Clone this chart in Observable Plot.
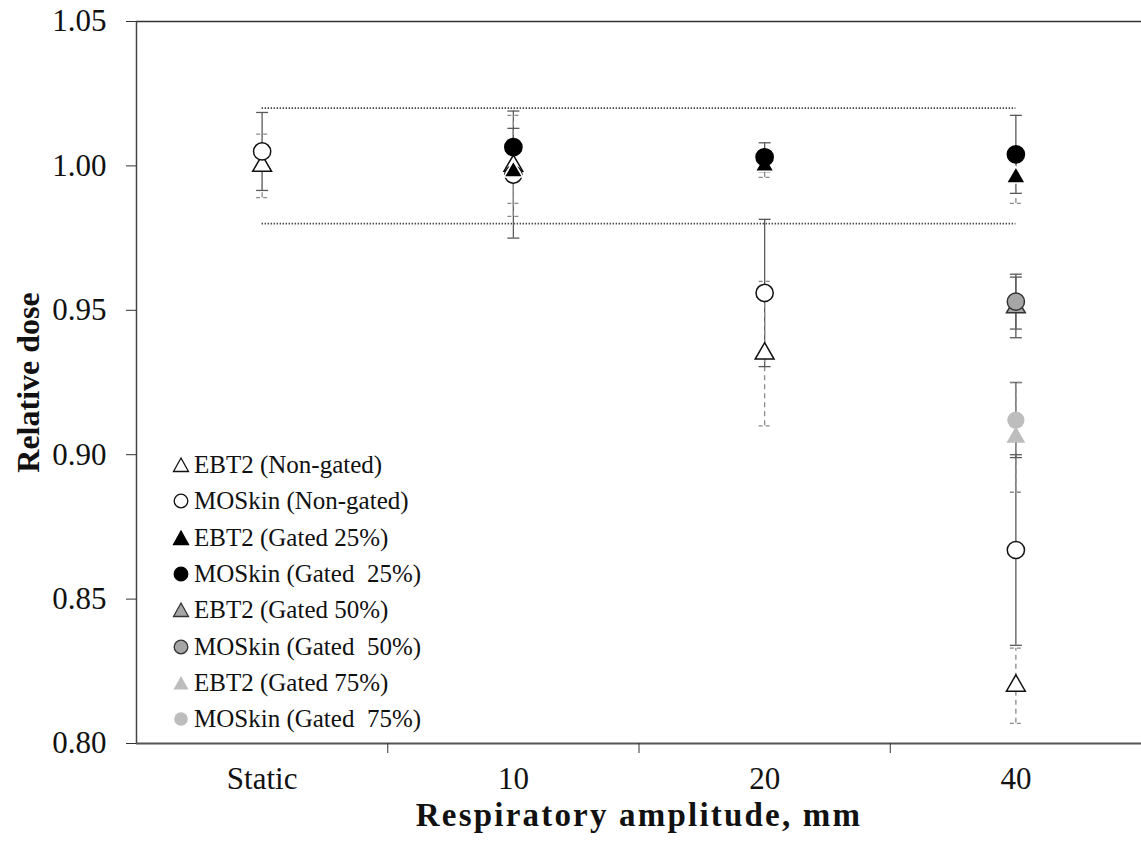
<!DOCTYPE html>
<html>
<head>
<meta charset="utf-8">
<script src="https://cdn.jsdelivr.net/npm/d3@7"></script>
<script src="https://cdn.jsdelivr.net/npm/@observablehq/plot@0.6"></script>
<style>
  html, body { margin: 0; padding: 0; background: #fff; }
  #wrap { position: relative; width: 1141px; height: 845px; font-family: "Liberation Serif", "DejaVu Serif", serif; }
  #legend { position: absolute; left: 172px; top: 447px; font-size: 25px; color: #111; font-family: "Liberation Serif", "DejaVu Serif", serif; }
  #legend .row { height: 36.3px; display: flex; align-items: center; white-space: pre; }
  #legend svg { width: 18px; height: 18px; margin-right: 4px; }
</style>
</head>
<body>
<div id="wrap"></div>
<script>
// ---- data ----
const categories = ["Static", "10", "20", "40"];
const yTicks = [0.80, 0.85, 0.90, 0.95, 1.00, 1.05];
const toleranceLimits = [0.98, 1.02];

const seriesNames = [
  "EBT2 (Non-gated)", "MOSkin (Non-gated)",
  "EBT2 (Gated 25%)", "MOSkin (Gated  25%)",
  "EBT2 (Gated 50%)", "MOSkin (Gated  50%)",
  "EBT2 (Gated 75%)", "MOSkin (Gated  75%)"
];

const ebt2NonGated     = [1.000, 1.000, 0.935, 0.820];
const ebt2NonGatedErr  = [0.011, 0.0175, 0.025, 0.013];
const mosNonGated      = [1.005, 0.997, 0.956, 0.867];
const mosNonGatedErr   = [0.0135, 0.022, 0.0255, 0.033];
const ebt2Gated25      = [null, 0.998, 1.000, 0.996];
const ebt2Gated25Err   = [null, 0.011, 0.004, 0.009];
const mosGated25       = [null, 1.0065, 1.003, 1.004];
const mosGated25Err    = [null, 0.0065, 0.005, 0.0135];
const ebt2Gated50      = [null, null, null, 0.951];
const ebt2Gated50Err   = [null, null, null, 0.0105];
const mosGated50       = [null, null, null, 0.953];
const mosGated50Err    = [null, null, null, 0.0095];
const ebt2Gated75      = [null, null, null, 0.906];
const ebt2Gated75Err   = [null, null, null, 0.019];
const mosGated75       = [null, null, null, 0.912];
const mosGated75Err    = [null, null, null, 0.013];

// ---- styles per series ----
const styles = [
  {values: ebt2NonGated, err: ebt2NonGatedErr, shape: "triangle", fill: "#fff",    stroke: "#111",  dashed: true},
  {values: mosNonGated,  err: mosNonGatedErr,  shape: "circle",   fill: "#fff",    stroke: "#111",  dashed: false},
  {values: ebt2Gated25,  err: ebt2Gated25Err,  shape: "triangle", fill: "#000",    stroke: "#fff",  dashed: true},
  {values: mosGated25,   err: mosGated25Err,   shape: "circle",   fill: "#000",    stroke: "#000",  dashed: false},
  {values: ebt2Gated50,  err: ebt2Gated50Err,  shape: "triangle", fill: "#a6a6a6", stroke: "#333",  dashed: false},
  {values: mosGated50,   err: mosGated50Err,   shape: "circle",   fill: "#a6a6a6", stroke: "#333",  dashed: false},
  {values: ebt2Gated75,  err: ebt2Gated75Err,  shape: "triangle", fill: "#bdbdbd", stroke: "none",  dashed: true},
  {values: mosGated75,   err: mosGated75Err,   shape: "circle",   fill: "#bdbdbd", stroke: "none",  dashed: false}
];

const catPos = c => categories.indexOf(c) + 0.5;

const rows = [];
styles.forEach((s, k) => {
  categories.forEach((c, i) => {
    const v = s.values[i];
    if (v == null) return;
    const e = s.err[i];
    rows.push({k, series: seriesNames[k], x: catPos(c), y: v, lo: v - e, hi: v + e, ...s});
  });
});
const capRows = rows.flatMap(d => [{...d, y: d.lo}, {...d, y: d.hi}]);

const capSymbol = {
  draw(ctx, size) {
    const w = Math.sqrt(size / Math.PI);
    ctx.moveTo(-w, 0);
    ctx.lineTo(w, 0);
  }
};

const font = "'Liberation Serif', 'DejaVu Serif', serif";
const solidErr = "#5a5a5a", dashErr = "#8a8a8a";
const xTitle = "Respiratory amplitude, mm";

const marks = [
  // frame lines
  Plot.ruleY([1.05], {stroke: "#333", strokeWidth: 1.5}),
  Plot.ruleY([0.80], {stroke: "#555", strokeWidth: 2.2}),
  Plot.ruleX([0], {stroke: "#444", strokeWidth: 1.5}),
  // tolerance lines
  Plot.ruleY(toleranceLimits, {x1: catPos("Static"), x2: catPos("40"), stroke: "#444", strokeWidth: 1.6, strokeDasharray: "1.4,1.6"}),
  // error bars
  Plot.ruleX(rows.filter(d => !d.dashed), {x: "x", y1: "lo", y2: "hi", stroke: solidErr, strokeWidth: 1.3}),
  Plot.ruleX(rows.filter(d => d.dashed), {x: "x", y1: "lo", y2: "hi", stroke: dashErr, strokeWidth: 1.3, strokeDasharray: "5,4"}),
  Plot.dot(capRows.filter(d => !d.dashed), {x: "x", y: "y", symbol: capSymbol, r: 6, fill: "none", stroke: solidErr, strokeWidth: 1.3}),
  Plot.dot(capRows.filter(d => d.dashed), {x: "x", y: "y", symbol: capSymbol, r: 6, fill: "none", stroke: dashErr, strokeWidth: 1.3, strokeDasharray: "4,3"}),
  // axes
  Plot.axisY({ticks: yTicks, tickFormat: d3.format(".2f"), tickSize: 10, tickPadding: 20, fontSize: 31, fontFamily: font, label: null, stroke: "#333", color: "#111"}),
  Plot.axisX({ticks: categories.map(catPos), tickFormat: v => categories[v - 0.5], tickSize: 0, tickPadding: 23, fontSize: 31, fontFamily: font, label: null, color: "#111"}),
  Plot.axisX({ticks: [1, 2, 3], tickFormat: () => "", tickSize: 10, label: null, stroke: "#333"}),
  // titles
  Plot.text(["Relative dose"], {frameAnchor: "left", textAnchor: "middle", lineAnchor: "middle", dx: -108, rotate: -90, fontSize: 32, fontWeight: "bold", fontFamily: font, fill: "#111"}),
  Plot.text([xTitle], {frameAnchor: "bottom", textAnchor: "middle", lineAnchor: "middle", dy: 72, fontSize: 33, fontWeight: "bold", fontFamily: font, fill: "#111"})
];

// markers, one mark per series in drawing order
styles.forEach((s, k) => {
  const data = rows.filter(d => d.k === k);
  marks.push(Plot.dot(data, {
    x: "x", y: "y",
    symbol: s.shape,
    r: s.shape === "circle" ? 8.6 : 7.0,
    fill: s.fill,
    stroke: s.stroke,
    strokeWidth: 1.5
  }));
});

const chart = Plot.plot({
  width: 1141,
  height: 845,
  marginLeft: 136,
  marginRight: 0,
  marginTop: 21,
  marginBottom: 102,
  x: {type: "linear", domain: [0, categories.length], axis: null},
  y: {domain: [0.80, 1.05], axis: null},
  style: {fontFamily: font, background: "#fff"},
  marks
});

// widen the x title slightly, as in the reference
d3.select(chart).selectAll("text").filter(function() { return this.textContent === xTitle; })
  .style("letter-spacing", "2.2px");

const wrap = document.getElementById("wrap");
wrap.appendChild(chart);

// legend
const legend = document.createElement("div");
legend.id = "legend";
styles.forEach((s, k) => {
  const row = document.createElement("div");
  row.className = "row";
  const sym = s.shape === "circle"
    ? `<circle cx="9" cy="9" r="6.8" fill="${s.fill}" stroke="${s.stroke}" stroke-width="1.3"/>`
    : `<path d="M9,2 L16.5,15.5 L1.5,15.5 Z" fill="${s.fill}" stroke="${s.stroke === "#fff" ? s.fill : s.stroke}" stroke-width="1.3"/>`;
  row.innerHTML = `<svg viewBox="0 0 18 18">${sym}</svg><span>${seriesNames[k]}</span>`;
  legend.appendChild(row);
});
wrap.appendChild(legend);
</script>
</body>
</html>
